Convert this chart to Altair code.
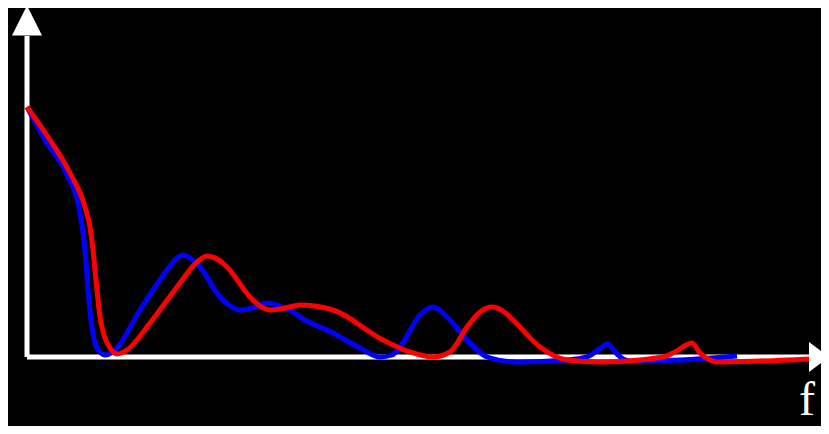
import altair as alt
import pandas as pd

# Curves: f (horizontal position from the vertical axis), amplitude (height above the f axis)
blue_f = [0, 18, 40, 53, 58, 61, 64, 68, 73, 78, 88, 113, 140, 149, 156, 163, 173, 193, 205, 213,
          228, 240, 253, 266, 273, 306, 333, 353, 365, 373, 393, 406, 420, 440, 460, 490, 540, 560,
          571, 581, 585, 590, 603, 653, 710]
blue_a = [250, 217, 182, 144, 107, 67, 37, 14, 5, 2, 7, 47, 87, 98, 102, 99, 90, 60, 50, 47,
          50, 54, 51, 45, 40, 24, 9, 0, 2, 10, 42, 50, 40, 17, 0, -5, -3, 0,
          7, 13, 9, 3, -4, -3, 1]

red_f = [0, 23, 43, 58, 63, 66, 69, 73, 77, 83, 90, 100, 123, 153, 168, 180, 190, 200, 223, 233,
         243, 258, 273, 306, 356, 383, 406, 423, 440, 453, 465, 476, 486, 513, 540, 573, 636, 648,
         665, 673, 683, 690, 733, 802]
red_a = [250, 217, 184, 150, 130, 107, 77, 40, 22, 9, 3, 7, 34, 74, 93, 101, 98, 90, 60, 51,
         47, 49, 52, 47, 17, 5, 0, 5, 30, 45, 50, 46, 37, 10, -3, -5, 0, 5,
         14, 4, -3, -5, -4, -1]

# Axis geometry (same units)
y_axis_top = 321
x_axis_end = 782

blue = pd.DataFrame({"f": blue_f, "a": blue_a, "s": "blue"})
red = pd.DataFrame({"f": red_f, "a": red_a, "s": "red"})

xs = alt.Scale(domain=[-19, 794], nice=False, zero=False)
ys = alt.Scale(domain=[-69, 349], nice=False, zero=False)
X = lambda: alt.X("f:Q", scale=xs, axis=None)
Y = lambda: alt.Y("a:Q", scale=ys, axis=None)

axes_df = pd.DataFrame({"f": [0, 0], "a": [0, 0], "f2": [0, x_axis_end], "a2": [y_axis_top, 0]})
axes = alt.Chart(axes_df).mark_rule(color="white", strokeWidth=5, strokeCap="butt").encode(
    x=alt.X("f:Q", scale=xs, axis=None), x2="f2:Q",
    y=alt.Y("a:Q", scale=ys, axis=None), y2="a2:Q")

up = alt.Chart(pd.DataFrame({"f": [0], "a": [336.5]})).mark_point(
    shape="M0,-1L1,1L-1,1Z", size=900, filled=True, color="white", opacity=1, strokeWidth=0
).encode(x=X(), y=Y())
right = alt.Chart(pd.DataFrame({"f": [792], "a": [0]})).mark_point(
    shape="M1,0L-1,-1.5L-1,1.5Z", size=400, filled=True, color="white", opacity=1, strokeWidth=0
).encode(x=X(), y=Y())

lb = alt.Chart(blue).mark_line(color="#0000ff", strokeWidth=5, interpolate="monotone", clip=True).encode(
    x=X(), y=Y(), order="f:Q")
lr = alt.Chart(red).mark_line(color="#ff0000", strokeWidth=5, interpolate="monotone", clip=True).encode(
    x=X(), y=Y(), order="f:Q")

label = alt.Chart(pd.DataFrame({"f": [780], "a": [-68], "t": ["f"]})).mark_text(
    font="Liberation Serif", fontSize=48, color="white", baseline="bottom", align="center"
).encode(x=X(), y=Y(), text="t:N")

chart = alt.layer(axes, lb, lr, up, right, label).properties(
    width=813, height=418, background="black", padding=0,
    autosize=alt.AutoSizeParams(type="none")
).configure_view(stroke=None)

chart.save("out.html", embed_options={"renderer": "svg", "actions": False})
